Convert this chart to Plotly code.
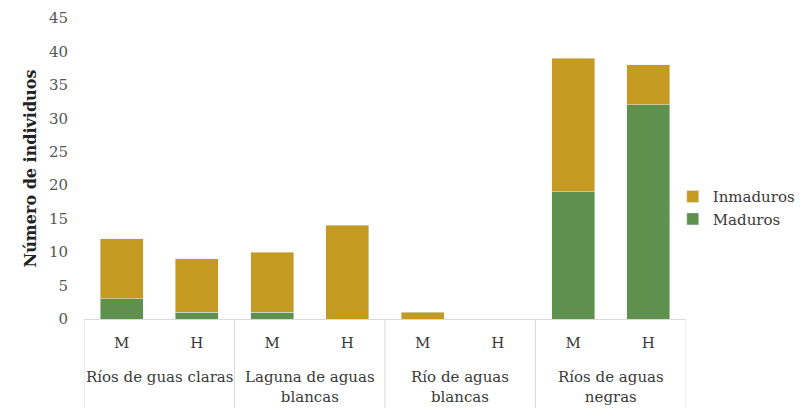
import plotly.graph_objects as go

groups = ["Ríos de guas claras", "Laguna de aguas<br>blancas", "Río de aguas<br>blancas", "Ríos de aguas<br>negras"]
sexes = ["M", "H"]
maduros = [3, 1, 1, 0, 0, 0, 19, 32]
inmaduros = [9, 8, 9, 14, 1, 0, 20, 6]

gold = "#C59A20"
green = "#5E914D"
line_grey = "#d9d9d9"
text_col = "#3a3a3a"
font_family = "DejaVu Serif, Liberation Serif, serif"

n_sub = len(sexes)
positions = list(range(len(groups) * n_sub))
sub_labels = [s for _ in groups for s in sexes]

fig = go.Figure()
fig.add_trace(go.Bar(x=positions, y=maduros, name="Maduros", marker_color=green, width=0.57))
fig.add_trace(go.Bar(x=positions, y=inmaduros, name="Inmaduros", marker_color=gold, width=0.57))

# group boundaries below the axis
depth = -89 / 301
for k in range(len(groups) + 1):
    xb = k * n_sub - 0.5
    fig.add_shape(type="line", xref="x", yref="paper", x0=xb, x1=xb, y0=0, y1=depth,
                  line=dict(color=line_grey, width=1))

# group names under the sub labels
for k, g in enumerate(groups):
    fig.add_annotation(x=k * n_sub + (n_sub - 1) / 2, xref="x", y=-47 / 301, yref="paper",
                       yanchor="top", xanchor="center", text=g, showarrow=False,
                       font=dict(size=15, color=text_col, family=font_family))

fig.update_layout(
    width=802, height=408,
    margin=dict(l=84, r=116, t=18, b=89, autoexpand=False),
    barmode="stack",
    plot_bgcolor="white",
    paper_bgcolor="white",
    showlegend=True,
    font=dict(family=font_family, size=15, color=text_col),
    legend=dict(x=0.978, y=0.37, yanchor="middle", traceorder="reversed",
                font=dict(size=15, color=text_col), itemwidth=30, tracegroupgap=0),
    yaxis=dict(range=[0, 45], dtick=5, showgrid=False, zeroline=False,
               showline=False, ticks="", ticklabelstandoff=15,
               tickfont=dict(size=15, color="#555555"),
               title=dict(text="<b>Número de individuos</b>", font=dict(size=16, color="#222222"), standoff=8)),
    xaxis=dict(range=[-0.5, len(positions) - 0.5], tickmode="array", tickvals=positions,
               ticktext=sub_labels, showline=True, linecolor=line_grey, linewidth=1,
               showgrid=False, zeroline=False, ticks="", ticklabelstandoff=10,
               tickfont=dict(size=15, color=text_col)),
)

fig.write_html("out.html")
